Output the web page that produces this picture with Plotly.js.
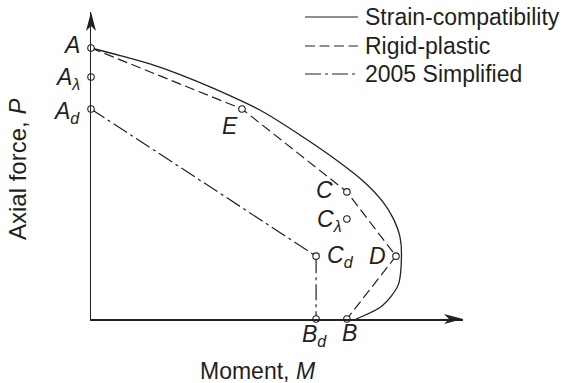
<!DOCTYPE html>
<html>
<head>
<meta charset="utf-8">
<script src="https://cdn.plot.ly/plotly-3.0.1.min.js"></script>
<style>
  html, body { margin: 0; padding: 0; background: #ffffff; }
  #chart { width: 563px; height: 383px; }
</style>
</head>
<body>
<div id="chart"></div>
<script>
// Interaction diagram (axial force vs. moment), normalised: P by the squash load A, M by the balance point D.

const seriesNames = ['Strain-compatibility', 'Rigid-plastic', '2005 Simplified'];

// Strain-compatibility curve
const strainM = [0, 0.095, 0.193, 0.292, 0.400, 0.554, 0.685, 0.784, 0.892, 0.957, 0.990, 1.013, 1.018, 1.007, 0.954, 0.869];
const strainP = [1.0, 0.972, 0.941, 0.902, 0.852, 0.771, 0.679, 0.603, 0.509, 0.432, 0.373, 0.303, 0.236, 0.125, 0.048, 0];

// Rigid-plastic polygon A-E-C-D-B
const rigidM = [0, 0.495, 0.839, 1.0, 0.839];
const rigidP = [1.0, 0.775, 0.469, 0.232, 0];

// 2005 simplified polygon Ad-Cd-Bd
const simpM = [0, 0.738, 0.738];
const simpP = [0.775, 0.232, 0];

// Named points
const pointNames = ['A', 'A<sub>λ</sub>', 'A<sub>d</sub>', 'E', 'C', 'C<sub>λ</sub>', 'C<sub>d</sub>', 'D', 'B<sub>d</sub>', 'B'];
const pointM = [0, 0, 0, 0.495, 0.839, 0.839, 0.738, 1.0, 0.738, 0.839];
const pointP = [1.0, 0.893, 0.775, 0.775, 0.469, 0.369, 0.232, 0.232, 0, 0];

const axisTitles = { x: 'Moment, <i>M</i>', y: 'Axial force, <i>P</i>' };

// ---- page geometry (pixels) ----
const INK = '#231f20';
const FONT = '"Liberation Sans", Arial, Helvetica, sans-serif';
const W = 563, H = 383;
const ML = 91, MR = 100, MT = 12, MB = 64;
const PW = W - ML - MR, PH = H - MT - MB;
const pxX = px => (px - ML) / PW;          // pixel -> paper x
const pxY = py => (H - MB - py) / PH;      // pixel -> paper y

const dashes = ['solid', '10px,4.5px', '16px,4px,3px,4px'];

const traces = [
  { x: strainM, y: strainP, name: seriesNames[0], mode: 'lines',
    line: { color: INK, width: 1.3, shape: 'spline', smoothing: 0.8, dash: dashes[0] } },
  { x: rigidM, y: rigidP, name: seriesNames[1], mode: 'lines',
    line: { color: INK, width: 1.2, dash: dashes[1] } },
  { x: simpM, y: simpP, name: seriesNames[2], mode: 'lines',
    line: { color: INK, width: 1.2, dash: dashes[2] } },
  { x: pointM, y: pointP, mode: 'markers', cliponaxis: false, hoverinfo: 'skip',
    marker: { symbol: 'circle', size: 6.5, color: '#ffffff', line: { color: INK, width: 1.1 } } }
];

// label placement around each point: [xanchor, xshift, yshift]
const labelPlace = [
  ['center', -20, 3],
  ['right', -9, -1.5],
  ['right', -9, -3.5],
  ['center', -12, -17],
  ['right', -12, 1.5],
  ['right', -3, -1.5],
  ['left', 9, -0.5],
  ['right', -8, 0.5],
  ['left', -16, -16.5],
  ['center', 3, -13.5]
];

const annotations = pointNames.map((t, i) => ({
  x: pointM[i], y: pointP[i], xref: 'x', yref: 'y',
  text: t, showarrow: false,
  xanchor: labelPlace[i][0], yanchor: 'middle',
  xshift: labelPlace[i][1], yshift: labelPlace[i][2],
  font: { family: FONT, size: 23, color: INK, style: 'italic' }
}));

// axis titles
annotations.push({
  xref: 'paper', yref: 'paper', x: pxX(258), y: pxY(371),
  text: axisTitles.x, showarrow: false, xanchor: 'center', yanchor: 'middle',
  font: { family: FONT, size: 23, color: INK }
});
annotations.push({
  xref: 'paper', yref: 'paper', x: pxX(17), y: pxY(170),
  text: axisTitles.y, showarrow: false, textangle: -90, xanchor: 'center', yanchor: 'middle',
  font: { family: FONT, size: 24, color: INK }
});

// key: line samples with their names
const keyRows = [17, 46, 74];
const shapes = [];
seriesNames.forEach((name, i) => {
  shapes.push({ type: 'line', xref: 'paper', yref: 'paper',
    x0: pxX(305), x1: pxX(358), y0: pxY(keyRows[i]), y1: pxY(keyRows[i]),
    line: { color: INK, width: 1.2, dash: dashes[i] } });
  annotations.push({ xref: 'paper', yref: 'paper', x: pxX(363), y: pxY(keyRows[i]),
    text: name, showarrow: false, xanchor: 'left', yanchor: 'middle',
    font: { family: FONT, size: 23, color: INK } });
});

// arrowheads at the ends of both axes
shapes.push({ type: 'path', xref: 'paper', yref: 'paper', xsizemode: 'pixel', ysizemode: 'pixel',
  xanchor: 1, yanchor: 0, path: 'M0,0L-19,5L-14,0L-19,-5Z',
  fillcolor: INK, line: { width: 0 } });
shapes.push({ type: 'path', xref: 'paper', yref: 'paper', xsizemode: 'pixel', ysizemode: 'pixel',
  xanchor: 0, yanchor: 1, path: 'M0,0L-5,-19L0,-14L5,-19Z',
  fillcolor: INK, line: { width: 0 } });

const axisCommon = {
  showgrid: false, zeroline: false, showticklabels: false, ticks: '',
  showline: true, linecolor: INK, linewidth: 1.5, fixedrange: true
};

const layout = {
  width: W, height: H,
  margin: { l: ML, r: MR, t: MT, b: MB, pad: 0 },
  paper_bgcolor: '#ffffff', plot_bgcolor: '#ffffff',
  showlegend: false,
  xaxis: Object.assign({ range: [0, 1.2197] }, axisCommon),
  yaxis: Object.assign({ range: [0, 1.1328] }, axisCommon),
  annotations: annotations,
  shapes: shapes
};

Plotly.newPlot('chart', traces, layout, { displayModeBar: false, staticPlot: true });
</script>
</body>
</html>
